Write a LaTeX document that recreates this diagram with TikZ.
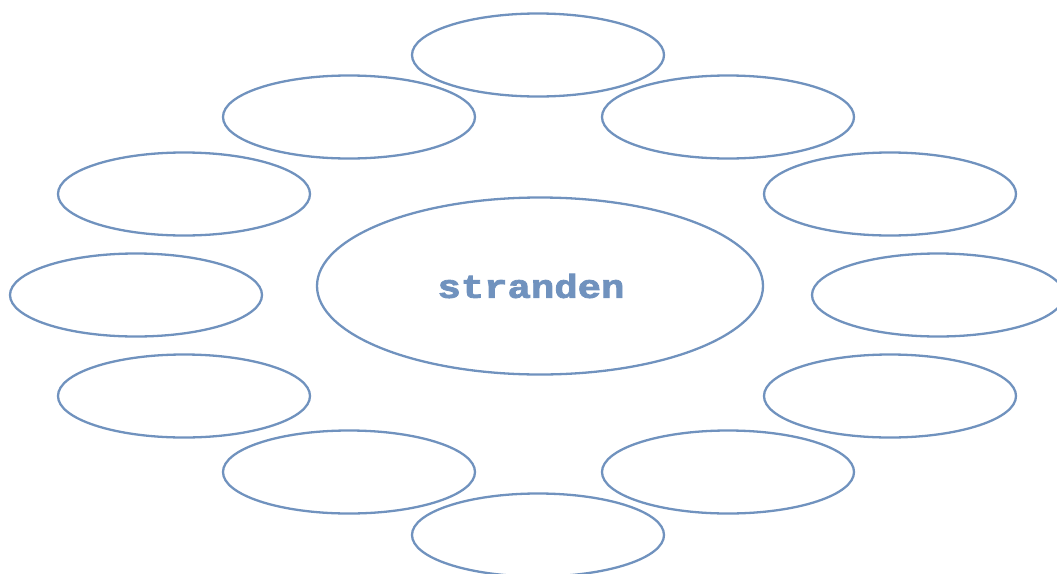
\documentclass[tikz,border=0pt]{standalone}
\usepackage{fontspec}
\usepackage{xcolor}
\usetikzlibrary{shapes.geometric,positioning,calc}
\newfontfamily\slabfont[FakeStretch=1.18,FakeBold=2.5]{Liberation Mono}
\definecolor{blue1}{RGB}{112,146,190}

\begin{document}
\begin{tikzpicture}[x=1pt, y=-1pt,
    bubble/.style={draw=blue1, line width=2.3pt, ellipse, inner sep=0pt, minimum width=252pt, minimum height=83pt},
    hub/.style={draw=blue1, line width=2.3pt, ellipse, inner sep=0pt, minimum width=446pt, minimum height=177pt, text=blue1, font=\slabfont\bfseries\fontsize{33}{33}\selectfont}]
    \useasboundingbox (0,0) rectangle (1057,573);
    \node[hub] (center) at (540,286) {stranden\kern18pt\relax};

    \node[bubble] (top) at (538,55) {};
    \node[bubble] (topleft) at (349,117) {};
    \node[bubble] (topright) at (728,117) {};
    \node[bubble] (upleft) at (184,194) {};
    \node[bubble] (upright) at (890,194) {};
    \node[bubble] (left) at (136,295) {};
    \node[bubble] (right) at (938,295) {};
    \node[bubble] (lowleft) at (184,396) {};
    \node[bubble] (lowright) at (890,396) {};
    \node[bubble] (botleft) at (349,472) {};
    \node[bubble] (botright) at (728,472) {};
    \node[bubble] (bottom) at (538,535) {};
\end{tikzpicture}
\end{document}
